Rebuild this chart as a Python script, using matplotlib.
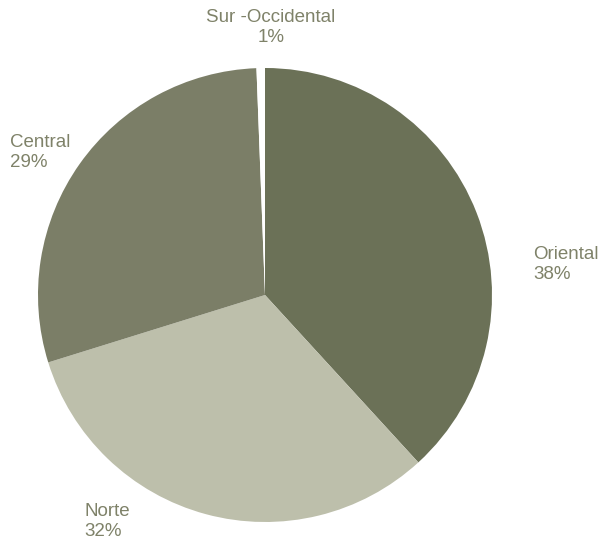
import matplotlib
matplotlib.use("Agg")
import matplotlib.pyplot as plt

# regions and shares (%), clockwise from 12 o'clock
regions = ["Oriental", "Norte", "Central", "Sur -Occidental"]
shares = [38.2, 32.0, 29.2, 0.6]
colors = ["#6b7157", "#bdbfab", "#7b7e67", "#ffffff"]
TEXT = "#7f8269"

W, H = 602, 542
fig = plt.figure(figsize=(W / 100, H / 100), dpi=100, facecolor="white")

# pie centre ~(265, 295) px, radius ~228 px
cx, cy, r = 265, 295, 227
ax = fig.add_axes([(cx - r) / W, (H - cy - r) / H, 2 * r / W, 2 * r / H])
ax.pie(shares, colors=colors, startangle=90, counterclock=False,
       radius=1.0, wedgeprops=dict(edgecolor="none", linewidth=0))
ax.set_xlim(-1, 1)
ax.set_ylim(-1, 1)
ax.set_aspect("equal")
ax.axis("off")

# label anchors in pixels (x, y top, alignment)
label_pos = {
    "Oriental": (533, 246, "left"),
    "Norte": (84, 503, "left"),
    "Central": (10, 134, "left"),
    "Sur -Occidental": (271, 9, "center"),
}
for name, val in zip(regions, shares):
    x, y, ha = label_pos[name]
    fig.text(x / W, 1 - y / H, f"{name}\n{round(val)}%", ha=ha, va="top",
             color=TEXT, fontsize=13.5, family="Liberation Sans",
             linespacing=1.2, multialignment=ha)

fig.savefig("out.png", dpi=100, facecolor="white")
